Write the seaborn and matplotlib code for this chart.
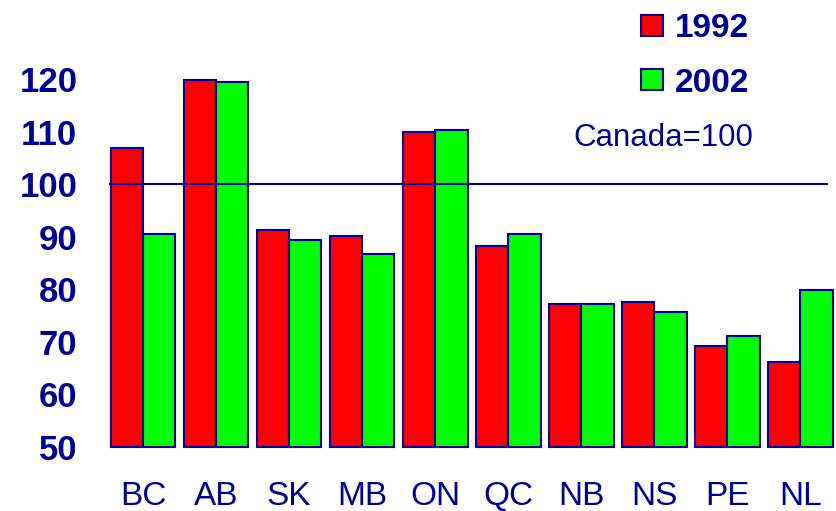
import matplotlib
matplotlib.use("Agg")
import matplotlib.pyplot as plt
import seaborn as sns
import pandas as pd

provinces = ["BC", "AB", "SK", "MB", "ON", "QC", "NB", "NS", "PE", "NL"]
years = ["1992", "2002"]
values_1992 = [106.9, 119.8, 91.3, 90.1, 109.9, 88.2, 77.2, 77.6, 69.2, 66.1]
values_2002 = [90.5, 119.5, 89.4, 86.7, 110.3, 90.5, 77.2, 75.7, 71.1, 79.8]
y_ticks = [50, 60, 70, 80, 90, 100, 110, 120]
canada_level = 100
canada_label = "Canada=100"

NAVY = "#000099"

df = pd.DataFrame({
    "province": provinces * 2,
    "year": [years[0]] * len(provinces) + [years[1]] * len(provinces),
    "value": values_1992 + values_2002,
})

sns.set_theme(style="white")
plt.rcParams["font.family"] = ["Liberation Sans", "DejaVu Sans"]

fig = plt.figure(figsize=(8.37, 5.11), dpi=100)
ax = fig.add_axes([0.1272, 0.1258, 0.8728, 0.7705])

sns.barplot(data=df, x="province", y="value", hue="year",
            palette=["#FF0000", "#00FF00"], saturation=1,
            edgecolor=NAVY, linewidth=1.5, width=0.885, ax=ax)

# bars rise from the axis floor at 50 rather than from zero
floor = y_ticks[0]
for patch in ax.patches:
    h = patch.get_height()
    if h > 0:
        patch.set_y(floor)
        patch.set_height(h - floor)
        patch.set_clip_on(False)

ax.set_ylim(floor, 125)
ax.set_xlim(-0.5, len(provinces) - 0.5)
ax.set_yticks(y_ticks)
ax.set_yticklabels([str(t) for t in y_ticks], fontsize=25, fontweight="bold",
                   color=NAVY)
ax.set_xticks(range(len(provinces)))
ax.set_xticklabels(provinces, fontsize=24, color=NAVY)
ax.tick_params(axis="y", length=0, pad=21)
ax.tick_params(axis="x", length=0, pad=24.5)
ax.set_xlabel("")
ax.set_ylabel("")
for s in ax.spines.values():
    s.set_visible(False)

# national reference line drawn above the bars
ax.hlines(canada_level, -0.465, 9.38, color=NAVY, linewidth=1.5, zorder=5)
ax.text(7.12, 108.8, canada_label, fontsize=22.5, color=NAVY,
        ha="center", va="center")

handles, labels = ax.get_legend_handles_labels()
leg = ax.legend(handles, labels, loc="upper left",
                bbox_to_anchor=(0.714, 1.135), frameon=False,
                prop={"size": 24, "weight": "bold"},
                handlelength=0.65, handleheight=0.6, handletextpad=0.35,
                labelspacing=0.7, borderaxespad=0)
for t in leg.get_texts():
    t.set_color(NAVY)

fig.savefig("out.png", dpi=100)
